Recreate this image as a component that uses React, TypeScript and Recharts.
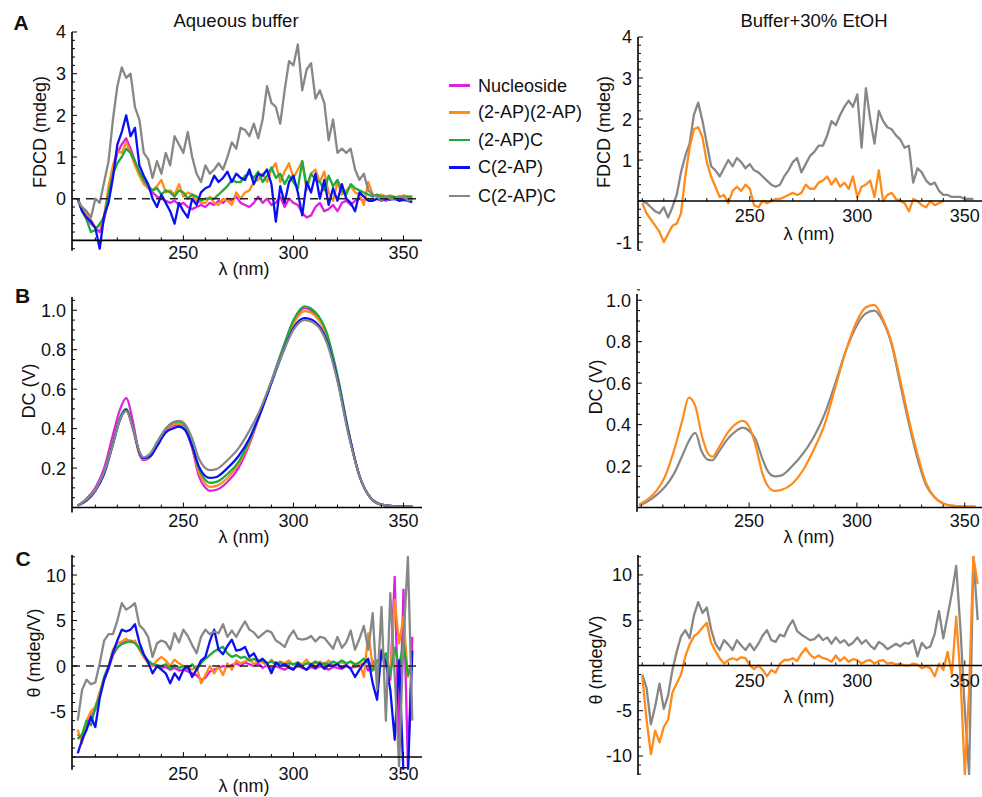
import React from "react"
import { LineChart, Line, XAxis, YAxis, ReferenceLine, ReferenceDot } from "recharts"

const FONT = "'Liberation Sans', Arial, Helvetica, sans-serif"
const INK = "#111"

const C_NUC = "#e01fe0"
const C_APAP = "#ff8b1c"
const C_APC = "#1eaa3c"
const C_CAP = "#0a0ff5"
const C_CAPC = "#878787"

// wavelength grids (nm)
const wlAq = [
  202, 204, 206, 208, 210, 212, 214, 216, 218, 220, 222, 224, 226, 228, 230, 232, 234, 236, 238, 240,
  242, 244, 246, 248, 250, 252, 254, 256, 258, 260, 262, 264, 266, 268, 270, 272, 274, 276, 278, 280,
  282, 284, 286, 288, 290, 292, 294, 296, 298, 300, 302, 304, 306, 308, 310, 312, 314, 316, 318, 320,
  322, 324, 326, 328, 330, 332, 334, 336, 338, 340, 342, 344, 346, 348, 350, 352, 354,
]
const wlEt = [
  200, 202, 204, 206, 208, 210, 212, 214, 216, 218, 220, 222, 224, 226, 228, 230, 232, 234, 236, 238,
  240, 242, 244, 246, 248, 250, 252, 254, 256, 258, 260, 262, 264, 266, 268, 270, 272, 274, 276, 278,
  280, 282, 284, 286, 288, 290, 292, 294, 296, 298, 300, 302, 304, 306, 308, 310, 312, 314, 316, 318,
  320, 322, 324, 326, 328, 330, 332, 334, 336, 338, 340, 342, 344, 346, 348, 350, 352, 354, 356,
]
const wlDcAq = [
  202, 206, 210, 214, 218, 221, 224, 227, 230, 232, 235, 238, 242, 245, 248, 251, 254, 257, 260, 262,
  265, 270, 275, 280, 285, 290, 295, 300, 305, 310, 315, 320, 325, 330, 335, 340, 345, 350, 354,
]
const wlDcEt = [
  199, 203, 207, 211, 215, 219, 222, 225, 228, 231, 233, 236, 240, 244, 247, 250, 253, 256, 259, 262,
  265, 270, 275, 280, 285, 290, 295, 300, 304, 308, 312, 316, 320, 324, 328, 332, 336, 340, 345, 350, 355,
]

// A, aqueous buffer: FDCD (mdeg)
const fdcdAqNuc = [
  0.0, -0.3, -0.45, -0.6, -0.7, -0.8, -0.5, 0.0, 0.7, 1.1,
  1.3, 1.45, 1.2, 0.9, 0.6, 0.4, 0.25, 0.15, 0.05, 0.0,
  -0.05, -0.1, -0.05, -0.15, -0.1, -0.2, -0.25, -0.2, -0.15, -0.2,
  -0.1, -0.15, -0.05, -0.1, 0.0, -0.05, 0.05, -0.1, -0.15, -0.2,
  -0.1, 0.05, -0.1, 0.0, -0.15, -0.1, 0.05, -0.2, 0.0, -0.1,
  -0.15, -0.35, -0.45, -0.4, -0.2, -0.1, -0.3, -0.25, -0.15, -0.3,
  -0.1, -0.05, -0.15, -0.05, 0.0, -0.05, 0.0, -0.05, 0.0, 0.0,
  -0.05, 0.0, 0.0, -0.03, 0.0, 0.0, -0.03,
]
const fdcdAqApAp = [
  0.0, -0.25, -0.35, -0.5, -0.7, -0.65, -0.4, 0.3, 0.8, 1.15,
  1.1, 1.35, 1.1, 0.8, 0.55, 0.35, 0.25, 0.2, 0.3, 0.45,
  0.15, 0.2, 0.1, 0.35, 0.05, 0.15, 0.1, -0.05, -0.1, -0.1,
  0.05, -0.1, -0.15, 0.0, -0.05, -0.15, 0.15, 0.0, 0.15, 0.2,
  0.4, 0.45, 0.6, 0.4, 0.7, 0.85, 0.4, 0.65, 0.85, 0.5,
  0.7, 0.9, 0.2, 0.6, 0.7, 0.4, 0.65, 0.15, -0.05, 0.4,
  0.1, 0.2, 0.3, 0.15, 0.1, -0.15, 0.4, 0.1, 0.05, 0.1,
  0.05, 0.08, 0.05, 0.0, 0.08, 0.05, 0.05,
]
const fdcdAqApC = [
  0.0, -0.3, -0.5, -0.8, -0.75, -0.6, -0.45, 0.1, 0.6, 0.85,
  1.0, 1.2, 1.1, 0.9, 0.65, 0.45, 0.3, 0.2, 0.25, 0.1,
  0.2, 0.15, 0.05, 0.2, 0.15, 0.0, 0.1, 0.05, -0.05, 0.0,
  0.0, 0.0, 0.1, 0.2, 0.3, 0.45, 0.4, 0.4, 0.55, 0.6,
  0.5, 0.65, 0.4, 0.55, 0.75, 0.5, 0.6, 0.35, 0.55, 0.4,
  0.25, 0.9, 0.3, 0.6, 0.45, 0.4, 0.2, 0.55, 0.3, 0.45,
  0.2, 0.1, 0.35, 0.25, 0.2, 0.15, 0.1, 0.05, 0.1, 0.05,
  0.05, 0.05, 0.03, 0.05, 0.05, 0.05, 0.05,
]
const fdcdAqCAp = [
  0.0, -0.3, -0.45, -0.55, -0.7, -1.2, -0.4, -0.1, 0.5, 1.3,
  1.6, 2.0, 1.5, 1.7, 0.8, 0.55, 0.35, 0.0, -0.2, 0.1,
  -0.1, -0.3, -0.6, -0.1, -0.3, -0.45, 0.0, -0.15, 0.15, 0.25,
  0.3, 0.55, 0.4, 0.5, 0.65, 0.4, 0.6, 0.5, 0.45, 0.7,
  0.35, 0.6, 0.55, 0.7, 0.35, -0.55, 0.3, -0.1, 0.4, 0.55,
  0.15, -0.4, 0.4, 0.15, 0.6, 0.0, 0.45, -0.15, 0.25, -0.05,
  0.35, 0.0, -0.1, -0.3, 0.15, 0.05, -0.05, -0.05, 0.0, -0.05,
  0.0, -0.02, 0.0, -0.05, -0.03, -0.05, -0.08,
]
const fdcdAqCApC = [
  -0.05, -0.2, -0.3, -0.45, 0.0, -0.1, 0.4, 0.9, 1.9, 2.7,
  3.15, 2.9, 3.0, 2.2, 1.9, 1.1, 0.95, 0.5, 0.9, 0.6,
  1.1, 0.8, 1.5, 1.3, 1.1, 1.6, 1.0, 0.6, 0.4, 0.8,
  0.6, 0.7, 0.85, 0.7, 1.0, 1.35, 1.2, 1.7, 1.65, 1.5,
  1.8, 1.45, 1.9, 2.7, 2.3, 2.2, 1.8, 2.6, 3.3, 3.2,
  3.7, 2.6, 3.1, 3.25, 2.4, 2.6, 2.3, 1.4, 1.9, 1.1,
  1.2, 1.1, 1.2, 0.7, 0.45, 0.6, 0.2, 0.1, 0.05, -0.05,
  0.05, 0.0, -0.02, 0.05, 0.05, -0.05, 0.0,
]

// A, buffer + 30% EtOH: FDCD (mdeg)
const fdcdEtApAp = [
  -0.05, -0.3, -0.45, -0.6, -0.75, -1.0, -0.8, -0.6, -0.55, -0.3,
  0.6, 1.3, 1.75, 1.8, 1.55, 0.95, 0.6, 0.35, 0.1, 0.15,
  -0.05, 0.25, 0.35, 0.25, 0.4, 0.3, -0.1, -0.15, 0.0, -0.05,
  0.0, 0.05, 0.05, 0.1, 0.15, 0.2, 0.15, 0.2, 0.4, 0.3,
  0.3, 0.45, 0.5, 0.6, 0.4, 0.55, 0.35, 0.45, 0.3, 0.6,
  0.1, 0.35, 0.4, 0.5, 0.1, 0.75, 0.0, 0.15, 0.2, 0.05,
  0.0, -0.05, -0.25, 0.05, 0.0, -0.1, -0.15, 0.0, -0.1, -0.05,
  0.0, null, null, null, null, null, null, null, null,
]
const fdcdEtCApC = [
  0.0, -0.05, -0.15, -0.25, -0.3, -0.15, -0.4, -0.15, 0.15, 0.7,
  1.1, 1.4, 2.1, 2.4, 1.95, 1.4, 0.85, 0.75, 0.6, 0.8,
  1.0, 0.85, 1.05, 0.95, 0.8, 0.9, 0.75, 0.7, 0.6, 0.5,
  0.4, 0.35, 0.4, 0.6, 0.75, 0.95, 1.05, 0.7, 0.9, 1.1,
  1.2, 1.35, 1.35, 1.6, 1.95, 1.85, 2.1, 2.3, 2.45, 2.3,
  2.6, 1.3, 2.75, 2.0, 1.4, 2.2, 1.95, 1.8, 1.75, 1.6,
  1.5, 1.3, 1.35, 0.45, 0.8, 0.7, 0.5, 0.4, 0.45, 0.25,
  0.15, 0.15, 0.1, 0.1, 0.1, 0.05, 0.05, 0.05, null,
]

// B, aqueous buffer: DC (V)
const dcAqNuc = [
  0.01, 0.045, 0.10, 0.20, 0.37, 0.49, 0.555, 0.44, 0.27, 0.24,
  0.26, 0.32, 0.39, 0.415, 0.42, 0.39, 0.30, 0.16, 0.10, 0.085,
  0.09, 0.13, 0.20, 0.32, 0.48, 0.64, 0.80, 0.94, 1.01, 0.98,
  0.88, 0.66, 0.38, 0.16, 0.05, 0.015, 0.008, 0.005, 0.005,
]
const dcAqApAp = [
  0.01, 0.04, 0.09, 0.18, 0.33, 0.44, 0.49, 0.40, 0.27, 0.245,
  0.265, 0.325, 0.395, 0.42, 0.425, 0.40, 0.31, 0.18, 0.12, 0.105,
  0.11, 0.15, 0.22, 0.33, 0.48, 0.64, 0.79, 0.93, 0.995, 0.97,
  0.87, 0.65, 0.38, 0.16, 0.05, 0.015, 0.008, 0.005, 0.005,
]
const dcAqApC = [
  0.01, 0.04, 0.09, 0.18, 0.33, 0.45, 0.50, 0.41, 0.28, 0.25,
  0.27, 0.33, 0.40, 0.43, 0.435, 0.41, 0.32, 0.20, 0.14, 0.125,
  0.13, 0.17, 0.23, 0.34, 0.48, 0.64, 0.80, 0.95, 1.02, 0.99,
  0.89, 0.67, 0.39, 0.16, 0.05, 0.015, 0.008, 0.005, 0.005,
]
const dcAqCAp = [
  0.01, 0.035, 0.085, 0.17, 0.32, 0.44, 0.495, 0.41, 0.28, 0.25,
  0.26, 0.31, 0.38, 0.40, 0.41, 0.39, 0.31, 0.21, 0.16, 0.15,
  0.155, 0.20, 0.26, 0.35, 0.48, 0.63, 0.78, 0.91, 0.96, 0.94,
  0.85, 0.65, 0.38, 0.16, 0.05, 0.015, 0.008, 0.005, 0.005,
]
const dcAqCApC = [
  0.01, 0.04, 0.09, 0.18, 0.32, 0.44, 0.49, 0.41, 0.285, 0.255,
  0.275, 0.33, 0.40, 0.43, 0.44, 0.42, 0.35, 0.25, 0.20, 0.19,
  0.195, 0.24, 0.30, 0.39, 0.50, 0.64, 0.78, 0.90, 0.95, 0.93,
  0.84, 0.64, 0.37, 0.16, 0.05, 0.015, 0.008, 0.005, 0.005,
]

// B, buffer + 30% EtOH: DC (V)
const dcEtApAp = [
  0.015, 0.04, 0.08, 0.15, 0.27, 0.42, 0.53, 0.49, 0.35, 0.26,
  0.245, 0.29, 0.36, 0.405, 0.418, 0.39, 0.30, 0.17, 0.10, 0.08,
  0.085, 0.115, 0.18, 0.28, 0.40, 0.58, 0.76, 0.90, 0.965, 0.978,
  0.91, 0.80, 0.62, 0.43, 0.26, 0.12, 0.05, 0.02, 0.008, 0.005, 0.005,
]
const dcEtCApC = [
  0.01, 0.03, 0.06, 0.10, 0.16, 0.25, 0.32, 0.36, 0.27, 0.23,
  0.228, 0.27, 0.33, 0.37, 0.385, 0.37, 0.33, 0.24, 0.17, 0.15,
  0.155, 0.20, 0.26, 0.34, 0.45, 0.60, 0.76, 0.88, 0.935, 0.95,
  0.90, 0.79, 0.60, 0.41, 0.24, 0.11, 0.05, 0.02, 0.008, 0.005, 0.005,
]

// C, aqueous buffer: theta (mdeg/V)
const thAqNuc = [
  -7.5, -8.0, -6.5, -5.5, -4.8, -3.0, -1.5, -0.3, 1.2, 2.0,
  2.5, 2.7, 2.8, 2.6, 1.9, 1.0, 0.4, 0.1, 0.0, -0.2,
  -0.1, -0.4, -0.2, -0.5, -0.4, -0.6, -0.8, -1.0, -1.5, -1.3,
  -0.6, -0.4, -0.2, 0.0, -0.1, 0.1, 0.3, 0.0, 0.4, 0.2,
  0.0, 0.3, -0.2, 0.1, -0.3, 0.0, -0.2, -0.4, -0.1, -0.3,
  0.0, -0.2, -0.4, -0.1, -0.3, 0.0, -0.2, -0.4, -0.1, -0.2,
  -0.3, 0.0, -0.2, -0.1, 0.0, 0.3, -0.5, 0.6, -0.8, 1.0,
  0.4, -1.5, 9.8, -9.2, 8.4, -11.0, 3.2,
]
const thAqApAp = [
  -7.0, -8.5, -6.0, -5.0, -4.5, -2.8, -1.3, 0.0, 1.8, 2.5,
  2.7, 3.0, 2.6, 2.8, 1.8, 1.0, 0.3, 0.0, 0.6, 1.0,
  0.6, 0.0, 0.7, 0.3, 0.0, -0.2, -0.4, 0.0, -1.9, -1.0,
  0.0, -0.8, 0.0, -1.0, 0.3, -0.4, 0.6, 0.3, 0.5, 0.8,
  0.2, 0.6, 0.4, 0.1, 0.7, 0.2, 0.5, 0.3, 0.6, 0.1,
  0.4, 0.2, 0.7, 0.1, 0.3, 0.5, 0.2, 0.6, 0.1, 0.3,
  0.4, 0.2, 0.5, 0.0, 0.3, -1.2, 3.6, 0.0, -0.6, 1.8,
  0.6, -1.0, 7.3, 2.5, 5.4, -1.2, 0.6,
]
const thAqApC = [
  -8.0, -7.5, -6.0, -6.5, -4.5, -3.3, -1.2, 0.0, 1.3, 2.1,
  2.4, 2.6, 2.7, 2.5, 2.0, 1.2, 0.6, 0.2, 0.1, 0.0,
  0.2, -0.3, 0.1, -0.2, 0.0, -0.3, 0.2, -0.4, 0.3, 0.8,
  1.2, 1.6, 1.9, 2.1, 1.4, 1.0, 1.2, 0.9, 1.0, 0.6,
  0.8, 0.5, 0.6, 0.3, 0.5, 0.2, 0.4, 0.1, 0.3, 0.2,
  0.4, 0.0, 0.3, 0.2, 0.5, 0.1, 0.3, 0.2, 0.5, 0.3,
  0.6, 0.3, 0.5, 0.2, 0.4, 0.8, 0.3, -0.5, 0.6, 0.8,
  1.4, -1.0, 2.0, 0.0, 2.5, -1.0, 0.6,
]
const thAqCAp = [
  -9.6, -8.1, -7.0, -5.6, -6.7, -3.5, -1.5, -0.2, 1.5, 2.8,
  4.0, 3.8, 4.0, 4.6, 2.6, 1.3, 0.4, -0.8, 0.0, -0.4,
  -0.8, -1.9, -0.8, -1.5, -0.4, 0.0, -1.2, -0.4, 0.6, 1.0,
  2.7, 4.0, 1.8, 1.3, 2.2, 2.9, 1.7, 1.8, 2.1, 1.0,
  1.4, 0.5, 0.8, 0.3, -0.8, 0.4, 0.0, 0.2, -0.2, -0.4,
  0.3, -0.1, -0.4, 0.2, -0.2, 0.3, -0.3, 0.1, 0.0, 0.2,
  -0.2, 0.1, -0.3, -1.2, -0.4, 0.3, 0.8, -1.9, -3.7, 1.7,
  0.3, -2.6, -8.1, 0.6, -12.0, -12.0, 1.7,
]
const thAqCApC = [
  -6.0, -2.6, -1.5, -2.0, -1.8, 0.3, 2.8, 3.5, 3.5, 5.0,
  6.9, 6.2, 6.5, 6.9, 4.5, 4.0, 3.2, 1.0, 2.5, 2.8,
  2.6, 1.8, 3.6, 2.6, 4.0, 3.3, 2.3, 1.4, 3.2, 4.0,
  3.5, 3.8, 3.6, 4.6, 3.2, 3.9, 3.2, 4.1, 4.9, 4.0,
  3.7, 3.1, 3.5, 3.9, 3.7, 2.8, 2.5, 2.1, 3.2, 3.9,
  3.0, 2.9, 3.0, 3.3, 2.7, 3.2, 3.1, 2.5, 1.9, 3.2,
  2.0, 2.6, 3.9, 1.8, 3.0, 4.4, 1.8, 5.8, -2.6, 6.5,
  -6.0, 8.0, -1.0, -11.0, 3.0, 12.0, -6.0,
]

// C, buffer + 30% EtOH: theta (mdeg/V)
const thEtApAp = [
  -1.2, -6.0, -9.8, -7.2, -8.5, -6.8, -6.0, -3.0, -2.0, -1.0,
  1.0, 2.3, 3.2, 3.6, 4.2, 4.7, 2.5, 1.6, 0.8, 0.2,
  0.6, 0.8, 0.6, 0.9, 0.8, 0.0, -0.4, 0.0, -0.5, -1.2,
  -0.5, -0.8, 0.2, 0.6, 0.6, 0.8, 0.5, 1.3, 1.9, 1.2,
  0.8, 1.1, 0.8, 0.7, 0.4, 1.1, 0.5, 0.9, 0.4, 0.7,
  0.6, 0.2, 0.5, 0.6, 0.2, 0.5, 0.6, 0.2, 0.3, 0.1,
  0.2, 0.0, 0.0, 0.2, 0.1, -0.3, -0.1, -0.3, -1.2, 0.2,
  -0.5, 1.5, -1.0, 5.4, -1.2, -12.0, -2.7, 12.0, 9.0,
]
const thEtCApC = [
  -1.0, -2.5, -6.5, -4.5, -2.0, -4.8, -3.3, -0.5, 1.5, 3.2,
  3.9, 3.0, 5.5, 7.0, 5.8, 6.4, 4.0, 2.4, 1.7, 2.8,
  2.3, 1.7, 2.8, 2.2, 1.7, 2.4, 1.7, 2.4, 3.3, 3.9,
  2.8, 2.6, 3.4, 3.2, 4.3, 5.0, 3.8, 3.4, 3.1, 2.8,
  2.9, 3.4, 2.8, 3.1, 2.4, 3.1, 2.5, 2.8, 2.2, 2.5,
  3.1, 2.4, 2.8, 2.2, 1.8, 2.6, 2.3, 1.8, 2.1, 2.4,
  2.1, 2.5, 2.4, 2.8, 1.0, 2.5, 1.9, 2.1, 3.5, 6.0,
  3.0, 5.5, 8.0, 11.0, 4.0, -4.9, -12.0, 12.0, 5.0,
]

// axis ticks
const xTicksAq = [210, 220, 230, 240, 250, 260, 270, 280, 290, 300, 310, 320, 330, 340, 350]
const xTicksEt = [200, 210, 220, 230, 240, 250, 260, 270, 280, 290, 300, 310, 320, 330, 340, 350]
const xLabels = [250, 300, 350]

const yTicksFdcd = [
  -1.2, -1, -0.8, -0.6, -0.4, -0.2, 0, 0.2, 0.4, 0.6, 0.8, 1, 1.2, 1.4, 1.6, 1.8, 2, 2.2, 2.4, 2.6,
  2.8, 3, 3.2, 3.4, 3.6, 3.8, 4,
]
const yTicksDc = [
  0, 0.05, 0.1, 0.15, 0.2, 0.25, 0.3, 0.35, 0.4, 0.45, 0.5, 0.55, 0.6, 0.65, 0.7, 0.75, 0.8, 0.85,
  0.9, 0.95, 1, 1.05,
]
const yTicksTh = [
  -12, -11, -10, -9, -8, -7, -6, -5, -4, -3, -2, -1, 0, 1, 2, 3, 4, 5, 6, 7, 8, 9, 10, 11, 12,
]

const legendNames = ["Nucleoside", "(2-AP)(2-AP)", "(2-AP)C", "C(2-AP)", "C(2-AP)C"]
const legendColors = [C_NUC, C_APAP, C_APC, C_CAP, C_CAPC]
const legendRows = [85.7, 112.3, 140, 167.3, 196]

type Series = { key: string; color: string; values: (number | null)[] }

const YTick = (props: any) => {
  const { x, y, payload, labeled, fmt } = props
  const v = payload?.value
  const major = labeled.includes(v)
  const ax = x + 5
  return (
    <g>
      <line x1={ax} y1={y} x2={ax + (major ? 5 : 3)} y2={y} stroke="#000" strokeWidth={1} />
      {major && (
        <text x={ax - 6} y={y} dy={6.5} textAnchor="end" fontSize={18} fontFamily={FONT} fill={INK}>
          {fmt ? fmt(v) : String(v)}
        </text>
      )}
    </g>
  )
}

const xTickShape = (major: boolean, dy: number, text: string) => (p: any) => (
  <g>
    <line x1={p.cx} y1={p.cy} x2={p.cx} y2={p.cy - (major ? 5 : 3)} stroke="#000" strokeWidth={1} />
    {major && (
      <text x={p.cx} y={p.cy + dy} textAnchor="middle" fontSize={18} fontFamily={FONT} fill={INK}>
        {text}
      </text>
    )}
  </g>
)

const YW = 45
const MT = 12
const MB = 36

function Panel(props: {
  left: number
  top: number
  plotW: number
  plotH: number
  xs: number[]
  series: Series[]
  xDomain: [number, number]
  yDomain: [number, number]
  yTicks: number[]
  yLabeled: number[]
  yFmt?: (v: number) => string
  xTicks: number[]
  axisAt: number
  labelDy: number
  dashedZero?: boolean
  smooth?: boolean
}) {
  const { left, top, plotW, plotH, xs, series, xDomain, yDomain, yTicks, yLabeled, yFmt, xTicks, axisAt, labelDy } = props
  const rows = xs.map((x, i) => {
    const r: any = { x }
    series.forEach((s) => (r[s.key] = s.values[i]))
    return r
  })
  return (
    <div style={{ position: "absolute", left: left - YW, top: top - MT }}>
      <LineChart width={YW + plotW} height={MT + plotH + MB} data={rows} margin={{ top: MT, right: 0, bottom: MB, left: 0 }}>
        <XAxis type="number" dataKey="x" domain={xDomain} allowDataOverflow hide />
        <YAxis
          type="number"
          domain={yDomain}
          allowDataOverflow
          ticks={yTicks}
          interval={0}
          width={YW}
          tickSize={0}
          tickMargin={5}
          tickLine={false}
          axisLine={{ stroke: "#000", strokeWidth: 1.6 }}
          tick={<YTick labeled={yLabeled} fmt={yFmt} />}
        />
        {series.map((s) => (
          <Line
            key={s.key}
            dataKey={s.key}
            type={props.smooth ? "monotone" : "linear"}
            stroke={s.color}
            strokeWidth={props.smooth ? 2.2 : 2.3}
            strokeLinejoin="round"
            dot={false}
            activeDot={false}
            connectNulls={false}
            isAnimationActive={false}
          />
        ))}
        {props.dashedZero && <ReferenceLine y={0} stroke="#222" strokeWidth={1.5} strokeDasharray="8 6" />}
        <ReferenceLine y={axisAt} stroke="#000" strokeWidth={1.6} />
        {xTicks.map((t) => (
          <ReferenceDot
            key={t}
            x={t}
            y={axisAt}
            r={1}
            shape={xTickShape(xLabels.includes(t), labelDy, String(t))}
          />
        ))}
      </LineChart>
    </div>
  )
}

const Txt = ({ x, y, children, size = 18, bold = false, rotate = false }: any) => (
  <div
    style={{
      position: "absolute",
      left: x,
      top: y,
      transform: `translate(-50%, -50%)${rotate ? " rotate(-90deg)" : ""}`,
      fontSize: size,
      fontWeight: bold ? 700 : 400,
      lineHeight: 1,
      whiteSpace: "nowrap",
    }}
  >
    {children}
  </div>
)

const dcFmt = (v: number) => v.toFixed(1)

export default function App() {
  return (
    <div
      style={{
        position: "absolute",
        left: 0,
        top: 0,
        width: 982,
        height: 797,
        background: "#fff",
        fontFamily: FONT,
        color: INK,
        overflow: "hidden",
      }}
    >
      {/* A: FDCD */}
      <Panel
        left={72}
        top={31.7}
        plotW={350}
        plotH={218.8}
        xs={wlAq}
        series={[
          { key: "nuc", color: C_NUC, values: fdcdAqNuc },
          { key: "apap", color: C_APAP, values: fdcdAqApAp },
          { key: "apc", color: C_APC, values: fdcdAqApC },
          { key: "cap", color: C_CAP, values: fdcdAqCAp },
          { key: "capc", color: C_CAPC, values: fdcdAqCApC },
        ]}
        xDomain={[199.4, 358.4]}
        yDomain={[-1.25, 4]}
        yTicks={yTicksFdcd}
        yLabeled={[0, 1, 2, 3, 4]}
        xTicks={xTicksAq}
        axisAt={-1}
        labelDy={19}
        dashedZero
      />
      <Panel
        left={638}
        top={36.7}
        plotW={344}
        plotH={213.3}
        xs={wlEt}
        series={[
          { key: "capc", color: C_CAPC, values: fdcdEtCApC },
          { key: "apap", color: C_APAP, values: fdcdEtApAp },
        ]}
        xDomain={[198, 358]}
        yDomain={[-1.2, 4]}
        yTicks={yTicksFdcd}
        yLabeled={[-1, 1, 2, 3, 4]}
        xTicks={xTicksEt}
        axisAt={0}
        labelDy={21}
      />

      {/* B: DC */}
      <Panel
        left={72}
        top={296.7}
        plotW={350}
        plotH={215.5}
        xs={wlDcAq}
        series={[
          { key: "nuc", color: C_NUC, values: dcAqNuc },
          { key: "apap", color: C_APAP, values: dcAqApAp },
          { key: "apc", color: C_APC, values: dcAqApC },
          { key: "cap", color: C_CAP, values: dcAqCAp },
          { key: "capc", color: C_CAPC, values: dcAqCApC },
        ]}
        xDomain={[199.4, 358.4]}
        yDomain={[-0.025, 1.067]}
        yTicks={yTicksDc}
        yLabeled={[0.2, 0.4, 0.6, 0.8, 1]}
        yFmt={dcFmt}
        xTicks={xTicksAq}
        axisAt={0}
        labelDy={19}
        smooth
      />
      <Panel
        left={637}
        top={294.3}
        plotW={345}
        plotH={217.7}
        xs={wlDcEt}
        series={[
          { key: "capc", color: C_CAPC, values: dcEtCApC },
          { key: "apap", color: C_APAP, values: dcEtApAp },
        ]}
        xDomain={[198, 358]}
        yDomain={[-0.02, 1.03]}
        yTicks={yTicksDc}
        yLabeled={[0.2, 0.4, 0.6, 0.8, 1]}
        yFmt={dcFmt}
        xTicks={xTicksEt}
        axisAt={0}
        labelDy={19}
        smooth
      />

      {/* C: theta */}
      <Panel
        left={72}
        top={555}
        plotW={350}
        plotH={214.8}
        xs={wlAq}
        series={[
          { key: "nuc", color: C_NUC, values: thAqNuc },
          { key: "apap", color: C_APAP, values: thAqApAp },
          { key: "apc", color: C_APC, values: thAqApC },
          { key: "cap", color: C_CAP, values: thAqCAp },
          { key: "capc", color: C_CAPC, values: thAqCApC },
        ]}
        xDomain={[199.4, 358.4]}
        yDomain={[-11.4, 12.2]}
        yTicks={yTicksTh.filter((t) => t >= -11)}
        yLabeled={[-5, 0, 5, 10]}
        xTicks={xTicksAq}
        axisAt={-10}
        labelDy={23}
        dashedZero
      />
      <Panel
        left={638}
        top={555}
        plotW={344}
        plotH={220}
        xs={wlEt}
        series={[
          { key: "capc", color: C_CAPC, values: thEtCApC },
          { key: "apap", color: C_APAP, values: thEtApAp },
        ]}
        xDomain={[198, 358]}
        yDomain={[-12.1, 12.2]}
        yTicks={yTicksTh}
        yLabeled={[-10, -5, 5, 10]}
        xTicks={xTicksEt}
        axisAt={0}
        labelDy={22}
      />

      {/* panel letters and titles */}
      <Txt x={21} y={22} size={21} bold>A</Txt>
      <Txt x={22.5} y={294.5} size={21} bold>B</Txt>
      <Txt x={23} y={557.5} size={21} bold>C</Txt>
      <Txt x={236} y={21} size={18.5}>Aqueous buffer</Txt>
      <Txt x={814} y={21} size={18.5}>Buffer+30% EtOH</Txt>

      {/* axis titles */}
      <Txt x={40} y={131.5} rotate>FDCD (mdeg)</Txt>
      <Txt x={604} y={131.5} rotate>FDCD (mdeg)</Txt>
      <Txt x={29} y={390.5} rotate>DC (V)</Txt>
      <Txt x={596} y={387} rotate>DC (V)</Txt>
      <Txt x={34} y={653} rotate>θ (mdeg/V)</Txt>
      <Txt x={596} y={660} rotate>θ (mdeg/V)</Txt>
      <Txt x={244} y={269}>λ (nm)</Txt>
      <Txt x={244} y={537}>λ (nm)</Txt>
      <Txt x={244} y={786}>λ (nm)</Txt>
      <Txt x={809} y={234}>λ (nm)</Txt>
      <Txt x={809} y={537}>λ (nm)</Txt>
      <Txt x={809} y={696.5}>λ (nm)</Txt>

      {/* legend */}
      {legendNames.map((name, i) => (
        <div key={name} style={{ position: "absolute", left: 449, top: legendRows[i] - 9, height: 18, display: "flex", alignItems: "center" }}>
          <span style={{ display: "inline-block", width: 21, height: 2.5, background: legendColors[i] }} />
          <span style={{ marginLeft: 8, fontSize: 18, lineHeight: 1 }}>{name}</span>
        </div>
      ))}
    </div>
  )
}
